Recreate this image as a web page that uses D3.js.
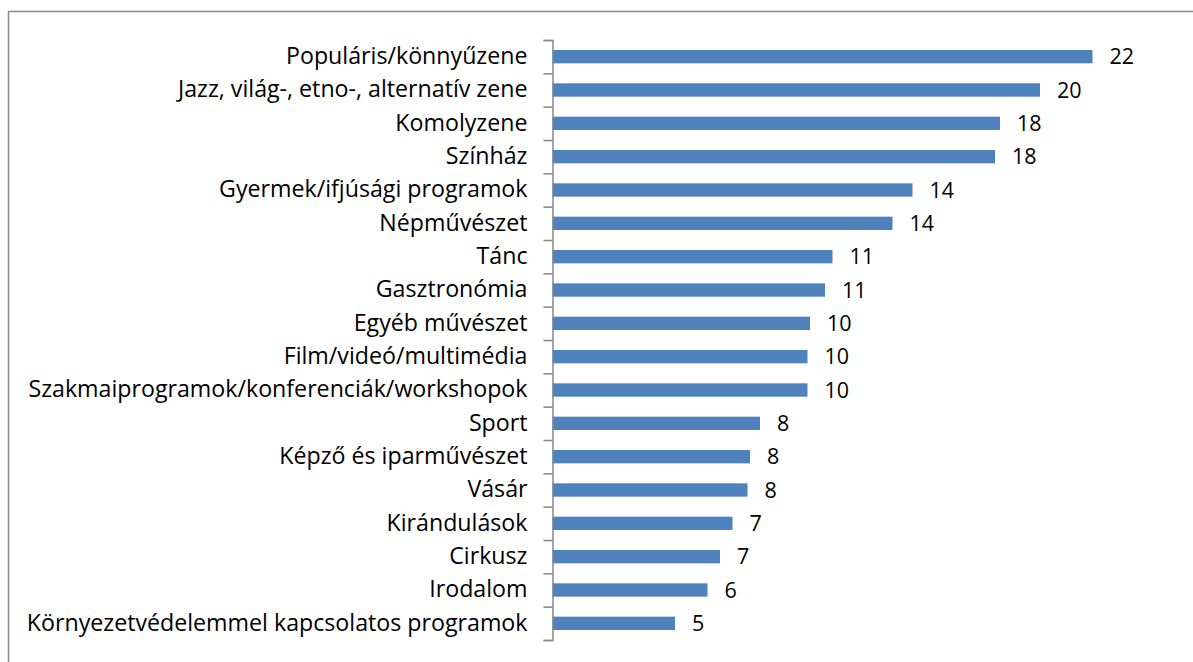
<!DOCTYPE html>
<html lang="hu">

<head>
    <title>Programok</title>
    <meta charset="utf-8" />
    <script src="https://d3js.org/d3.v7.min.js"></script>
    <style>
        body,
        html {
            margin: 0;
            padding: 0;
            background: #fff;
            overflow: hidden;
        }

        .label,
        .value {
            font-family: "Open Sans", sans-serif;
            fill: #000;
        }

        .label {
            font-size: 23.2px;
        }

        .value {
            font-size: 21.5px;
        }
    </style>
</head>

<body>
    <div id="chart"></div>
    <script>
        // kategóriák (felülről lefelé)
        const categories = [
            "Populáris/könnyűzene",
            "Jazz, világ-, etno-, alternatív zene",
            "Komolyzene",
            "Színház",
            "Gyermek/ifjúsági programok",
            "Népművészet",
            "Tánc",
            "Gasztronómia",
            "Egyéb művészet",
            "Film/videó/multimédia",
            "Szakmaiprogramok/konferenciák/workshopok",
            "Sport",
            "Képző és iparművészet",
            "Vásár",
            "Kirándulások",
            "Cirkusz",
            "Irodalom",
            "Környezetvédelemmel kapcsolatos programok"
        ];

        // értékek (%), a feliratok kerekítve
        const values = [21.6, 19.5, 17.9, 17.7, 14.4, 13.6, 11.2, 10.9, 10.3, 10.2, 10.2, 8.3, 7.9, 7.8, 7.2, 6.7, 6.2, 4.9];

        const xDomain = [0, 25];

        const data = categories.map((c, i) => ({ name: c, value: values[i] }));

        const width = 1193;
        const height = 662;
        const margin = { top: 40, left: 552.5, bottom: 22 };

        const svg = d3.select("#chart").append("svg")
            .attr("width", width)
            .attr("height", height);

        // keret
        svg.append("rect")
            .attr("x", 8.5)
            .attr("y", 11.5)
            .attr("width", width)
            .attr("height", height)
            .attr("fill", "none")
            .attr("stroke", "#868686")
            .attr("stroke-width", 1.5);

        const x = d3.scaleLinear()
            .domain(xDomain)
            .range([margin.left, margin.left + 625]);

        const y = d3.scaleBand()
            .domain(categories)
            .range([margin.top, height - margin.bottom])
            .paddingInner(0.6)
            .paddingOuter(0.3);

        // oszlopok
        svg.append("g")
            .selectAll("rect")
            .data(data)
            .enter().append("rect")
            .attr("x", x(0))
            .attr("y", d => y(d.name))
            .attr("width", d => x(d.value) - x(0))
            .attr("height", y.bandwidth())
            .attr("fill", "#4F81BD");

        // értékfeliratok
        svg.append("g")
            .selectAll("text")
            .data(data)
            .enter().append("text")
            .attr("class", "value")
            .attr("x", d => x(d.value) + 17)
            .attr("y", d => y(d.name) + y.bandwidth() / 2)
            .attr("dy", "0.36em")
            .text(d => d3.format(".0f")(d.value));

        // kategória feliratok
        const yAxis = svg.append("g")
            .attr("transform", `translate(${margin.left},0)`)
            .call(d3.axisLeft(y).tickSize(0).tickPadding(25));
        yAxis.select(".domain").remove();
        yAxis.selectAll("text")
            .attr("class", "label")
            .attr("font-family", null)
            .attr("font-size", null);

        // tengely és osztásjelek a sávhatárokon
        const yEdges = d3.scaleLinear()
            .domain([0, categories.length])
            .range([margin.top, height - margin.bottom]);
        const edgeAxis = svg.append("g")
            .attr("transform", `translate(${margin.left},0)`)
            .call(d3.axisLeft(yEdges)
                .tickValues(d3.range(categories.length + 1))
                .tickFormat("")
                .tickSize(9)
                .tickSizeOuter(9));
        edgeAxis.selectAll("line, path")
            .attr("stroke", "#868686")
            .attr("stroke-width", 1.5);
    </script>
</body>

</html>
